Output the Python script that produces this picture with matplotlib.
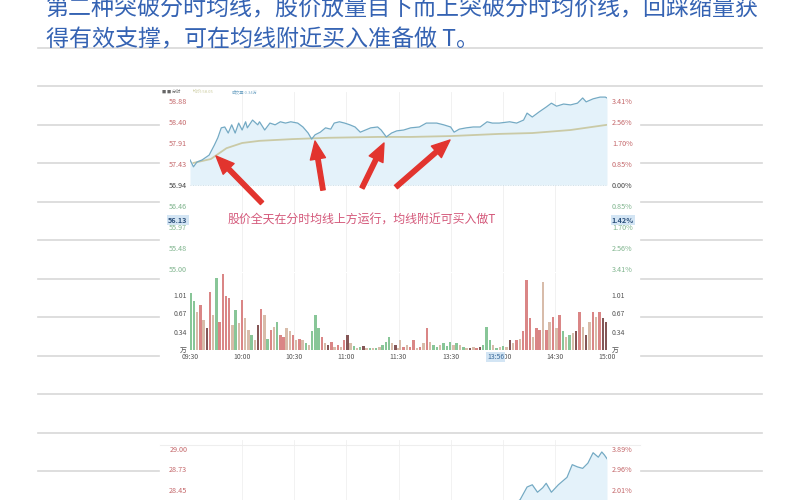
import numpy as np
import matplotlib.pyplot as plt
from matplotlib.lines import Line2D
from matplotlib.transforms import blended_transform_factory

plt.rcParams['font.family'] = ['Noto Sans CJK SC', 'DejaVu Sans']

# text on the page
title_1 = '第二种突破分时均线，股价放量自下而上突破分时均价线，回踩缩量获'
title_2 = '得有效支撑，可在均线附近买入准备做 T。'
note = '股价全天在分时均线上方运行，均线附近可买入做T'

# time axis (minutes since 09:30, lunch break removed)
time_ticks = [0, 30, 60, 90, 120, 150, 180, 210, 240]
time_labels = ['09:30', '10:00', '10:30', '11:00', '11:30', '13:30', '14:00', '14:30', '15:00']

# upper chart: price panel
pre_close = 56.94
price_ticks = [58.88, 58.40, 57.91, 57.43, 56.94, 56.46, 55.97, 55.48, 55.00]
pct_labels = ['3.41%', '2.56%', '1.70%', '0.85%', '0.00%', '0.85%', '1.70%', '2.56%', '3.41%']
cross_price, cross_pct, cross_time = '56.13', '1.42%', '13:56'

price_t = [0, 2, 4, 7, 11, 14, 16, 18, 20, 22, 24, 26, 28, 30, 32, 33, 36, 39, 40, 43,
           46, 49, 52, 55, 58, 62, 65, 68, 70, 72, 75, 78, 81, 83, 86, 89, 92, 95, 98, 101,
           104, 108, 110, 113, 116, 119, 123, 127, 132, 136, 142, 146, 150, 152, 155, 159,
           163, 167, 171, 174, 178, 184, 188, 192, 194, 197, 201, 205, 208, 211, 215, 219,
           223, 226, 228, 232, 236, 239, 240]
price_p = [57.52, 57.36, 57.47, 57.52, 57.63, 57.86, 58.03, 58.26, 58.28, 58.14,
           58.33, 58.14, 58.37, 58.21, 58.40, 58.26, 58.44, 58.33, 58.40, 58.21,
           58.37, 58.33, 58.40, 58.37, 58.40, 58.37, 58.28, 58.14, 58.00, 58.10,
           58.16, 58.26, 58.23, 58.37, 58.40, 58.37, 58.33, 58.28, 58.16, 58.21,
           58.26, 58.28, 58.21, 58.05, 58.14, 58.19, 58.21, 58.26, 58.28, 58.37,
           58.37, 58.33, 58.28, 58.16, 58.23, 58.26, 58.28, 58.28, 58.40, 58.37,
           58.37, 58.40, 58.37, 58.44, 58.60, 58.51, 58.63, 58.74, 58.83, 58.76,
           58.81, 58.79, 58.83, 58.95, 58.86, 58.93, 58.97, 58.97, 58.95]

avg_t = [2, 12, 21, 30, 40, 59, 79, 108, 127, 150, 178, 197, 219, 240]
avg_p = [57.45, 57.54, 57.79, 57.91, 57.96, 58.00, 58.03, 58.05, 58.05, 58.07,
         58.12, 58.14, 58.21, 58.33]

# upper chart: volume panel (万), r = up, g = down, t = mixed, d = dark
vol_ticks = [0, 0.337, 0.673, 1.01]
vol_labels = ['万', '0.34', '0.67', '1.01']
vol_am = [1.04, 0.89, 0.70, 0.82, 0.55, 0.40, 1.07, 0.64, 1.31, 0.52,
          1.40, 0.98, 0.95, 0.46, 0.73, 0.49, 0.92, 0.58, 0.37, 0.27,
          0.18, 0.46, 0.76, 0.64, 0.21, 0.37, 0.43, 0.52, 0.27, 0.24,
          0.40, 0.34, 0.27, 0.18, 0.21, 0.18, 0.12, 0.09, 0.34, 0.64,
          0.40, 0.24, 0.12, 0.09, 0.15, 0.06, 0.10, 0.06, 0.18, 0.27,
          0.12, 0.08, 0.04, 0.05, 0.08, 0.04, 0.03, 0.04, 0.03, 0.05,
          0.09, 0.14, 0.24, 0.12, 0.10, 0.03]
dir_am = 'ggtrtdrtgr' 'rrrtgtrttg' 'tdrtgrtgrr' 'ttrtrtgtgg' 'grtdrtrtrd' 'tgtgdtgtgt' 'gggtdt'
vol_pm = [0.18, 0.06, 0.10, 0.06, 0.18, 0.04, 0.06, 0.12, 0.40, 0.15,
          0.09, 0.06, 0.09, 0.12, 0.08, 0.15, 0.10, 0.12, 0.09, 0.06,
          0.04, 0.04, 0.06, 0.03, 0.05, 0.09, 0.43, 0.18, 0.09, 0.04,
          0.06, 0.08, 0.05, 0.18, 0.12, 0.18, 0.21, 0.34, 1.28, 0.58,
          0.24, 0.40, 0.37, 1.25, 0.37, 0.52, 0.61, 0.40, 0.64, 0.34,
          0.24, 0.27, 0.31, 0.34, 0.70, 0.43, 0.27, 0.52, 0.70, 0.61,
          0.70, 0.58, 0.52]
dir_pm = 'trtrrtrtrt' 'ggtgggtgtg' 'tdtrdgggtg' 'tgtdtrtrrr' 'trrtrtrtrg' 'tgtdrtdtrt' 'rdd'

# lower chart (cut off by the page bottom)
low_ticks = [29.00, 28.725, 28.45]
low_labels = ['29.00', '28.73', '28.45']
low_pct = ['3.89%', '2.96%', '2.01%']
low_t = [186, 190, 194, 197, 200, 203, 205, 208, 212, 215, 217, 220, 223, 226, 229,
         232, 235, 237, 238.5, 240]
low_p = [28.25, 28.32, 28.49, 28.52, 28.42, 28.48, 28.54, 28.42, 28.52, 28.58, 28.62,
         28.79, 28.76, 28.74, 28.81, 28.95, 28.89, 28.96, 28.92, 28.87]

# (tail, tip) of the red arrows, page pixels
arrows = [((262, 203), (216, 156)),
          ((323, 190), (315, 141)),
          ((362, 188), (384, 143)),
          ((396, 187), (450, 140))]

W, H = 800, 500
RED, GREEN, DARK = '#c4676a', '#7fb48d', '#444444'
bar_colors = {'r': '#da8686', 'g': '#88c698', 't': '#d8bcaa', 'd': '#845656'}


def px_box(x0, y0, x1, y1):
    return [x0 / W, 1 - y1 / H, (x1 - x0) / W, (y1 - y0) / H]


def clean(ax):
    for s in ax.spines.values():
        s.set_visible(False)
    ax.tick_params(length=0)


fig = plt.figure(figsize=(8, 5), dpi=100)

# ruled page lines
for y in [47.5, 86, 394, 432.5]:
    fig.add_artist(Line2D([38 / W, 762 / W], [1 - y / H] * 2, color='#d8d8d8', lw=1.2))
for y in [124.5, 163, 201.5, 240, 278.5, 317, 355.5, 471]:
    for x0, x1 in [(38, 159), (641, 762)]:
        fig.add_artist(Line2D([x0 / W, x1 / W], [1 - y / H] * 2, color='#d8d8d8', lw=1.2))
fig.add_artist(Line2D([160 / W, 640 / W], [1 - 445 / H] * 2, color='#eeeeee', lw=0.8))

fig.text(46 / W, 1 - 9 / H, title_1, fontsize=16.6, color='#3563b3', va='center')
fig.text(46 / W, 1 - 40 / H, title_2, fontsize=16.6, color='#3563b3', va='center')

# tiny legend row at chart top
fig.text(162 / W, 1 - 92 / H, '■ ■ 分时', fontsize=3, color='#666666', va='center')
fig.text(193 / W, 1 - 92 / H, '均价:58.05  ', fontsize=3, color='#c9c99a', va='center')
fig.text(232 / W, 1 - 92 / H, '成交量:0.34万', fontsize=3, color='#7aaac8', va='center')

# price panel
ax_p = fig.add_axes(px_box(190, 92, 607, 272))
k = (269 - 101) / (price_ticks[0] - price_ticks[-1])
ax_p.set_ylim(price_ticks[-1] - 3 / k, price_ticks[0] + 9 / k)
ax_p.set_xlim(0, 240)
ax_p.fill_between(price_t, price_p, pre_close, color='#e4f2fa', lw=0)
for t in time_ticks[1:-1]:
    ax_p.axvline(t, color='#efefef', lw=0.6, zorder=0)
ax_p.axhline(pre_close, color='#c9d9e2', lw=0.6, ls=(0, (1, 2)))
ax_p.plot(avg_t, avg_p, color='#cacaa6', lw=1.3)
ax_p.plot(price_t, price_p, color='#74aac4', lw=0.9)
clean(ax_p)
ax_p.set_xticks([])
ax_p.set_yticks(price_ticks)
ax_p.set_yticklabels([f'{v:.2f}' for v in price_ticks])
ax_p.tick_params(axis='y', labelsize=5.2, pad=2)
lab_colors = [RED] * 4 + [DARK] + [GREEN] * 4
for lab, c in zip(ax_p.get_yticklabels(), lab_colors):
    lab.set_color(c)

ax_r = ax_p.twinx()
ax_r.set_ylim(ax_p.get_ylim())
clean(ax_r)
ax_r.set_yticks(price_ticks)
ax_r.set_yticklabels(pct_labels)
ax_r.tick_params(axis='y', labelsize=5.2, pad=3.5)
for lab, c in zip(ax_r.get_yticklabels(), lab_colors):
    lab.set_color(c)

tr = blended_transform_factory(ax_p.transAxes, ax_p.transData)
hl = dict(boxstyle='square,pad=0.15', fc='#d3e5f4', ec='none')
ax_p.text(-0.006, float(cross_price), cross_price, transform=tr, ha='right', va='center',
          fontsize=5.2, color='#2b4f7a', fontweight='bold', bbox=hl)
ax_p.text(1.011, float(cross_price), cross_pct, transform=tr, ha='left', va='center',
          fontsize=5.2, color='#2b4f7a', fontweight='bold', bbox=hl)

fig.text(228 / W, 1 - 220 / H, note, fontsize=8.6, color='#d4587a', va='center')

for tail, tip in arrows:
    ax_p.annotate('', xy=(tip[0], H - tip[1]), xycoords='figure pixels',
                  xytext=(tail[0], H - tail[1]), textcoords='figure pixels',
                  arrowprops=dict(arrowstyle='simple,head_length=1.3,head_width=1.1,tail_width=0.32',
                                  color='#e2342e', mutation_scale=10, shrinkA=0, shrinkB=0))

# volume panel
ax_v = fig.add_axes(px_box(190, 273, 607, 350))
ax_v.set_xlim(0, 240)
ax_v.set_ylim(0, 77 / 54.6)
for t in time_ticks[1:-1]:
    ax_v.axvline(t, color='#efefef', lw=0.6, zorder=0)
x_am = np.linspace(0.5, 120, len(vol_am))
x_pm = np.linspace(121, 239.5, len(vol_pm))
ax_v.bar(x_am, vol_am, width=1.4, color=[bar_colors[c] for c in dir_am], lw=0)
ax_v.bar(x_pm, vol_pm, width=1.4, color=[bar_colors[c] for c in dir_pm], lw=0)
clean(ax_v)
ax_v.set_yticks(vol_ticks)
ax_v.set_yticklabels(vol_labels)
ax_v.set_xticks(time_ticks)
ax_v.set_xticklabels(time_labels)
ax_v.tick_params(labelsize=5, colors='#555555')
ax_v.tick_params(axis='y', pad=2)
ax_v.tick_params(axis='x', pad=2.5)
ax_v2 = ax_v.twinx()
ax_v2.set_ylim(ax_v.get_ylim())
clean(ax_v2)
ax_v2.set_yticks(vol_ticks)
ax_v2.set_yticklabels(vol_labels)
ax_v2.tick_params(labelsize=5, colors='#555555', pad=3.5)
ax_v.annotate(cross_time, xy=(176, 0), xycoords=('data', 'axes fraction'),
              xytext=(0, -7), textcoords='offset pixels', ha='center', va='center',
              fontsize=5, color='#3a6a9a', bbox=hl)

# lower chart
ax_l = fig.add_axes(px_box(190, 440, 607, 500))
k2 = (490 - 449) / (low_ticks[0] - low_ticks[-1])
ax_l.set_ylim(low_ticks[0] - 51 / k2, low_ticks[0] + 9 / k2)
ax_l.set_xlim(0, 240)
for t in time_ticks[1:-1]:
    ax_l.axvline(t, color='#f0f0f0', lw=0.6, zorder=0)
ax_l.fill_between(low_t, low_p, ax_l.get_ylim()[0], color='#e4f2fa', lw=0)
ax_l.plot(low_t, low_p, color='#74aac4', lw=0.9)
clean(ax_l)
ax_l.set_xticks([])
ax_l.set_yticks(low_ticks)
ax_l.set_yticklabels(low_labels)
ax_l.tick_params(axis='y', labelsize=5.2, pad=2, colors=RED)
ax_l2 = ax_l.twinx()
ax_l2.set_ylim(ax_l.get_ylim())
clean(ax_l2)
ax_l2.set_yticks(low_ticks)
ax_l2.set_yticklabels(low_pct)
ax_l2.tick_params(axis='y', labelsize=5.2, pad=3.5, colors=RED)

fig.savefig('out.png', dpi=100)
